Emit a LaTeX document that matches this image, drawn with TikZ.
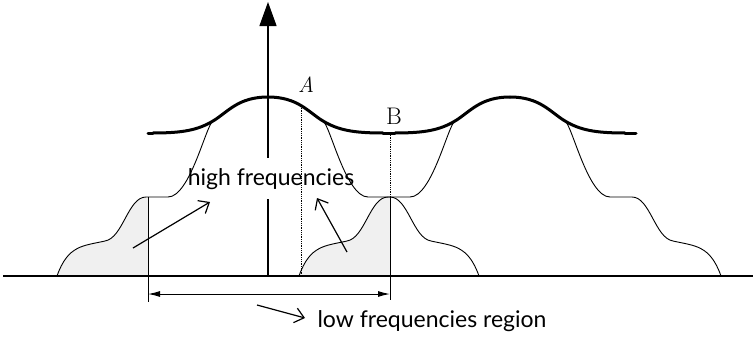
\documentclass[tikz,border=0pt]{standalone}
\usepackage{fontspec}
\newfontfamily\labelfont{Lato}
\usetikzlibrary{arrows.meta}
% right half of one spectrum copy, centre at x=0 (pixel units, y down)
\newcommand{\toppath}{(0,97) .. controls (30,97) and (40,112) .. (55,121)}
\newcommand{\tailpath}{(122,197) .. controls (140,197) and (145,238) .. (163,241) .. controls (185,246) and (200,245) .. (211,276)}
\newcommand{\specpath}{\toppath .. controls (62,125) and (78,197) .. (100,197) -- \tailpath}
\newcommand{\envpath}{\toppath .. controls (70,130) and (85,133) .. (115,133)}
\tikzset{
  spec/.style={line width=0.9pt},
  envelope/.style={line width=3pt,line cap=round},
  lowfill/.style={fill=gray!12},
  guide/.style={line width=0.8pt,densely dotted},
  pointer/.style={line width=1.2pt,-{Straight Barb[length=9pt,width=15pt]}},
  txt/.style={font=\labelfont\fontsize{23}{26}\selectfont,anchor=base,inner sep=1pt}
}
\begin{document}
\begin{tikzpicture}[x=1pt,y=-1pt]
\useasboundingbox (0,0) rectangle (753,340);
% shaded low frequency parts
\fill[lowfill,shift={(268,0)},xscale=-1] (120,197) -- \tailpath -- (120,276) -- cycle;
\fill[lowfill,shift={(510,0)},xscale=-1] (120,197) -- \tailpath -- (120,276) -- cycle;
% axes
\coordinate (O) at (268,276);
\coordinate (ytop) at (268,2);
\draw[line width=1.2pt] (3,276) -- (753,276);
\draw[line width=1.3pt,-{Triangle[length=24pt,width=17pt]}] (O) -- (ytop);
% label over the axis
\node[txt,fill=white,inner ysep=10pt] (hf) at (271,185) {high frequencies};
% the two spectrum copies
\draw[spec,shift={(268,0)}] \specpath;
\draw[spec,shift={(268,0)},xscale=-1] \specpath;
\draw[spec,shift={(510,0)}] \specpath;
\draw[spec,shift={(510,0)},xscale=-1] \specpath;
% summed spectrum (thick)
\draw[envelope] (148,133) -- (153,133);
\draw[envelope] (383,133) -- (395,133);
\draw[envelope] (625,133) -- (636,133);
\draw[envelope,shift={(268,0)}] \envpath;
\draw[envelope,shift={(268,0)},xscale=-1] \envpath;
\draw[envelope,shift={(510,0)}] \envpath;
\draw[envelope,shift={(510,0)},xscale=-1] \envpath;
% points A and B
\coordinate (A) at (301,106);
\coordinate (Abot) at (301,276);
\coordinate (B) at (390,133);
\coordinate (Bbot) at (390,197);
\draw[guide] (A) -- (Abot);
\draw[guide] (B) -- (Bbot);
\node[font=\fontsize{22}{26}\selectfont\itshape] (la) at (306,85) {A};
\node[font=\fontsize{24}{28}\selectfont] (lb) at (394,116) {B};
% low frequency region
\coordinate (L1) at (148,197);
\coordinate (L2) at (148,302);
\coordinate (R1) at (390,197);
\coordinate (R2) at (390,300);
\draw[line width=1pt] (L1) -- (L2);
\draw[line width=1pt] (R1) -- (R2);
\draw[line width=1pt,{Latex[length=12pt,width=6pt]}-{Latex[length=12pt,width=6pt]}] (148,294) -- (390,294);
\node[txt] (lf) at (432,327) {low frequencies region};
% pointers
\coordinate (p1) at (133,248);
\coordinate (q1) at (210,202);
\coordinate (p2) at (347,252);
\coordinate (q2) at (317,198);
\coordinate (p3) at (257,305);
\coordinate (q3) at (305,318);
\draw[pointer] (p1) -- (q1);
\draw[pointer] (p2) -- (q2);
\draw[pointer] (p3) -- (q3);
\end{tikzpicture}
\end{document}
